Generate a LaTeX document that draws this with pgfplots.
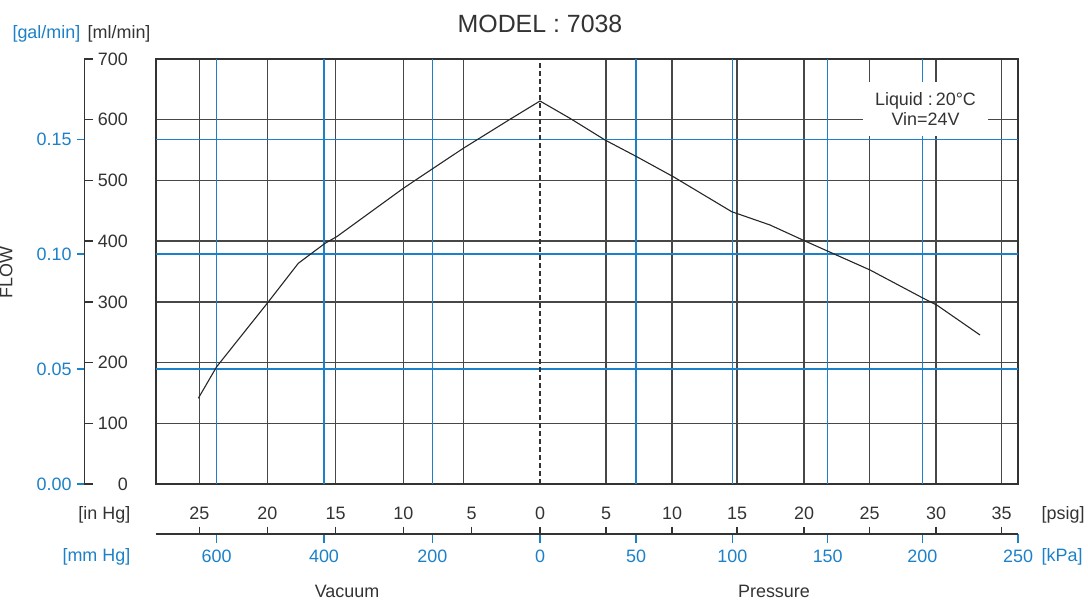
\documentclass[border=0pt]{standalone}
\usepackage{fontspec}
\setmainfont{Liberation Sans}
\usepackage{pgfplots}
\pgfplotsset{compat=1.18}
\definecolor{pblue}{HTML}{1C81C8}
\definecolor{gline}{HTML}{333333}
\newcommand{\lbl}{\fontsize{18}{20}\selectfont}

\begin{document}
\begin{tikzpicture}
% ---------------- main plot area ----------------
\begin{axis}[name=main, scale only axis, width=862bp, height=425bp,
  xmin=-384, xmax=478, ymin=0, ymax=700, enlargelimits=false,
  axis line style={gline, line width=1.5bp},
  xtick={-340.7,-272.7,-204.3,-136.7,-76.7,66,132,197,264,329.5,396,461.7},
  xticklabels={}, ytick={100,200,300,400,500,600}, yticklabels={},
  major tick length=0pt, tick style={draw=none},
  grid=major, major grid style={gline!90, line width=1.5bp},
  extra x ticks={-323.3,-216,-107.7,96,192.3,287.7,382.3},
  extra x tick labels={},
  extra x tick style={major grid style={pblue, line width=1.5bp}},
  extra y ticks={189.27,378.54,567.81},
  extra y tick labels={},
  extra y tick style={major grid style={pblue, line width=1.5bp}},
]
\addplot[gline, line width=1.3bp, dash pattern=on 5bp off 3bp] coordinates {(0,0) (0,700)};
\addplot[black!85, line width=1.1bp] coordinates {
(-341.7,141.2) (-323.3,193.2) (-272.3,298.6) (-241.7,363.5) (-215,396.4)
(-203.3,407.3) (-136.7,487.0) (-108.3,518.3) (-76.7,552.9) (-30,600.7)
(0,630.8) (30,602.3) (65,566.6) (96.7,539.1) (133.3,506.1) (191.7,448.5)
(230,426.6) (265,400.2) (330,352.5) (383.3,305.9) (396.7,294.8) (440,245.4)};
\end{axis}

% ---------------- bottom scale: in Hg / psig ----------------
\begin{axis}[at={(main.south west)}, anchor=north west, yshift=-50bp,
  scale only axis, width=862bp, height=20bp,
  xmin=-384, xmax=478, ymin=0, ymax=1, enlargelimits=false,
  hide y axis, axis x line=top,
  axis line style={gline, line width=1.5bp, -},
  tick align=outside, major tick length=7.3bp,
  xtick style={gline, line width=1.4bp},
  xtick={-340.7,-272.7,-204.3,-136.7,-68.3,0,66,132,197,264,329.5,396,461.7},
  xticklabels={25,20,15,10,5,0,5,10,15,20,25,30,35},
  xticklabel style={font=\lbl, inner sep=0pt, yshift=6.5bp, text=gline},
]
\end{axis}

% ---------------- bottom scale: mm Hg / kPa ----------------
\begin{axis}[at={(main.south west)}, anchor=south west, yshift=-50bp,
  scale only axis, width=862bp, height=20bp,
  xmin=-384, xmax=478, ymin=0, ymax=1, enlargelimits=false,
  hide y axis, axis x line=bottom,
  axis line style={gline, line width=1.5bp, -},
  tick align=outside, major tick length=8.7bp,
  xtick style={pblue, line width=1.4bp},
  xtick={-323.3,-216,-107.7,0,96,192.3,287.7,382.3,478},
  xticklabels={600,400,200,0,50,100,150,200,250},
  xticklabel style={font=\lbl, inner sep=0pt, yshift=-7bp, text=pblue},
]
\end{axis}

% ---------------- left scale: ml/min ----------------
\begin{axis}[at={(main.south west)}, anchor=south west, xshift=-71.7bp,
  scale only axis, width=20bp, height=425bp,
  xmin=0, xmax=1, ymin=0, ymax=700, enlargelimits=false,
  hide x axis, axis y line=left,
  axis line style={gline, line width=1.5bp, -},
  tick align=inside, major tick length=8.7bp,
  ytick style={gline, line width=1.4bp},
  ytick={0,100,200,300,400,500,600,700},
  yticklabel style={font=\lbl, anchor=east, inner sep=0pt, xshift=43.7bp, text=gline},
  /pgf/number format/assume math mode=true,
]
\end{axis}

% ---------------- left scale: gal/min ----------------
\begin{axis}[at={(main.south west)}, anchor=south west, xshift=-71.7bp,
  scale only axis, width=20bp, height=425bp,
  xmin=0, xmax=1, ymin=0, ymax=0.184920, enlargelimits=false,
  hide x axis, axis y line=left,
  axis line style={gline, line width=1.5bp, -},
  tick align=outside, major tick length=7.3bp,
  ytick style={pblue, line width=1.4bp},
  ytick={0,0.05,0.10,0.15}, scaled y ticks=false,
  yticklabel={\pgfmathprintnumber[fixed,fixed zerofill,precision=2,assume math mode=true]{\tick}},
  yticklabel style={font=\lbl, anchor=east, inner sep=0pt, xshift=-5.3bp, text=pblue},
]
\end{axis}

% ---------------- texts ----------------
\begin{scope}[shift={(main.south west)}, x=1bp, y=-1bp, shift={(-156,-484)}]
\node[font=\fontsize{25}{28}\selectfont, anchor=base, text=gline, inner sep=0pt] at (540,33) {MODEL : 7038};
\node[font=\lbl, text=pblue, anchor=base east, inner sep=0pt] at (80.5,38.5) {[gal/min]};
\node[font=\lbl, text=gline, anchor=base west, inner sep=0pt] at (87.5,38.5) {[ml/min]};
\node[font=\lbl, text=gline, rotate=90, anchor=base, inner sep=0pt] at (12.5,272.5) {FLOW};
\node[font=\lbl, text=gline, anchor=east, inner sep=0pt] at (130.5,515) {[in Hg]};
\node[font=\lbl, text=pblue, anchor=east, inner sep=0pt] at (130.5,556.5) {[mm Hg]};
\node[font=\lbl, text=gline, anchor=west, inner sep=0pt] at (1041.5,515) {[psig]};
\node[font=\lbl, text=pblue, anchor=west, inner sep=0pt] at (1041.5,556.5) {[kPa]};
\node[font=\lbl, text=gline, anchor=base, inner sep=0pt] at (347,598) {Vacuum};
\node[font=\lbl, text=gline, anchor=base, inner sep=0pt] at (774,598) {Pressure};
\node[fill=white, minimum width=125bp, minimum height=54bp, align=center,
      font=\lbl, text=gline, inner sep=0pt] at (925.5,109) {Liquid :\,20°C\\Vin=24V};
\pgfresetboundingbox
\useasboundingbox (0,0) rectangle (1088,601);
\end{scope}
\end{tikzpicture}
\end{document}
